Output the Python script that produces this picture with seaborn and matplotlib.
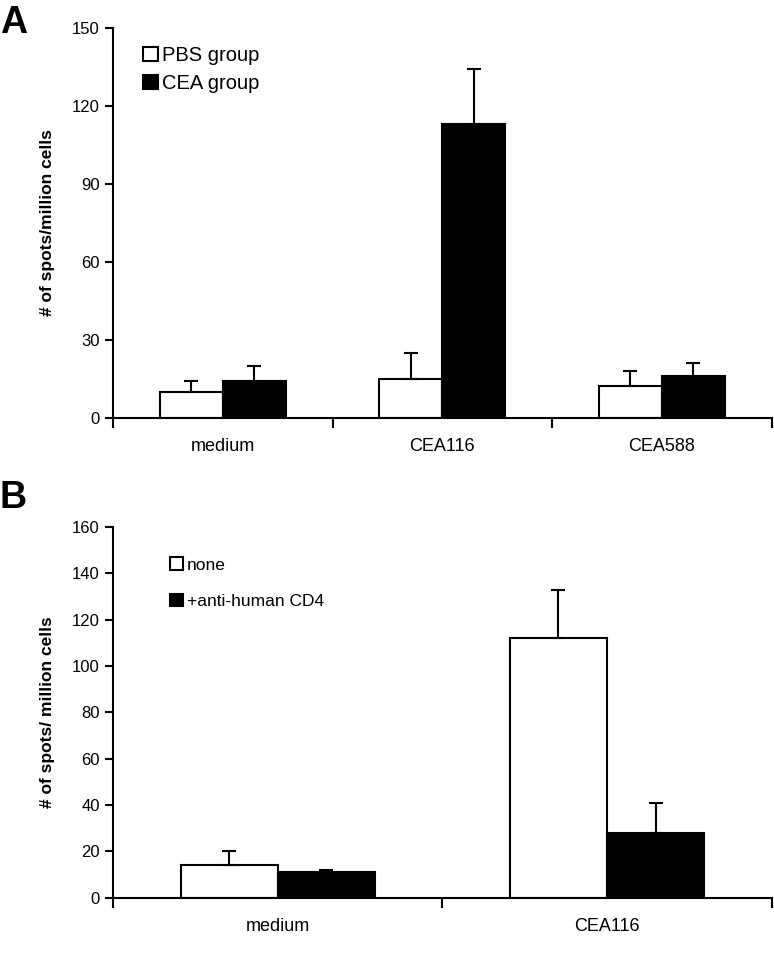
import pandas as pd
import matplotlib
matplotlib.use('Agg')
import matplotlib.pyplot as plt
import seaborn as sns
from matplotlib.patches import Patch

sns.set_style('white')
plt.rcParams['font.family'] = ['Liberation Sans', 'DejaVu Sans']
plt.rcParams['text.color'] = 'black'
plt.rcParams['axes.labelcolor'] = 'black'
plt.rcParams['xtick.color'] = 'black'
plt.rcParams['ytick.color'] = 'black'

# panel A
cats_a = ['medium', 'CEA116', 'CEA588']
groups_a = ['PBS group', 'CEA group']
vals_a = {'PBS group': [10, 15, 12], 'CEA group': [14, 113, 16]}
errs_a = {'PBS group': [4, 10, 6], 'CEA group': [6, 21, 5]}

# panel B
cats_b = ['medium', 'CEA116']
groups_b = ['none', '+anti-human CD4']
vals_b = {'none': [14, 112], '+anti-human CD4': [11, 28]}
errs_b = {'none': [6, 21], '+anti-human CD4': [1, 13]}


def long_form(cats, groups, vals):
    rows = []
    for g in groups:
        for c, v in zip(cats, vals[g]):
            rows.append({'cat': c, 'group': g, 'val': v})
    return pd.DataFrame(rows)


def draw(ax, cats, groups, vals, errs, width, ymax, ystep, ylabel):
    df = long_form(cats, groups, vals)
    sns.barplot(data=df, x='cat', y='val', hue='group', order=cats,
                hue_order=groups, palette=['white', 'black'],
                edgecolor='black', linewidth=1.5, width=width,
                errorbar=None, ax=ax, legend=False)
    # error bars (upper only) on top of each bar
    for g, cont in zip(groups, ax.containers):
        xs = [p.get_x() + p.get_width() / 2 for p in cont.patches]
        ys = [p.get_height() for p in cont.patches]
        ax.errorbar(xs, ys, yerr=[[0] * len(ys), errs[g]], fmt='none',
                    ecolor='black', elinewidth=1.5, capsize=5, capthick=1.5,
                    zorder=1)
    n = len(cats)
    ax.set_xlim(-0.5, n - 0.5)
    ax.set_ylim(0, ymax)
    ax.set_yticks(range(0, ymax + 1, ystep))
    ax.set_xticks([i - 0.5 for i in range(n + 1)], minor=True)
    ax.tick_params(axis='x', which='major', length=0, pad=15, labelsize=13)
    ax.tick_params(axis='x', which='minor', length=7, width=1.5,
                   direction='out', bottom=True)
    ax.tick_params(axis='y', length=6, width=1.5, direction='out',
                   labelsize=12, left=True)
    ax.set_xlabel('')
    ax.set_ylabel(ylabel, fontsize=12.5, fontweight='bold', labelpad=12)
    sns.despine(ax=ax)
    for s in ['left', 'bottom']:
        ax.spines[s].set_linewidth(1.5)
        ax.spines[s].set_color('black')


fig = plt.figure(figsize=(7.74, 9.6), dpi=100)
ax_a = fig.add_axes([0.146, 0.565, 0.851, 0.406])
ax_b = fig.add_axes([0.146, 0.065, 0.851, 0.386])

draw(ax_a, cats_a, groups_a, vals_a, errs_a, 0.575, 150, 30,
     '# of spots/million cells')
draw(ax_b, cats_b, groups_b, vals_b, errs_b, 0.59, 160, 20,
     '# of spots/ million cells')

handles_a = [Patch(facecolor=c, edgecolor='black', linewidth=1.5, label=g)
             for c, g in zip(['white', 'black'], groups_a)]
ax_a.legend(handles=handles_a, loc='upper left', bbox_to_anchor=(0.018, 1.0),
            frameon=False, fontsize=14.5, handlelength=0.75, handleheight=0.75,
            handletextpad=0.2, labelspacing=0.45)

handles_b = [Patch(facecolor=c, edgecolor='black', linewidth=1.5, label=g)
             for c, g in zip(['white', 'black'], groups_b)]
ax_b.legend(handles=handles_b, loc='upper left', bbox_to_anchor=(0.063, 0.96),
            frameon=False, fontsize=12.5, handlelength=0.75, handleheight=0.75,
            handletextpad=0.2, labelspacing=1.2)

fig.text(0.0, 0.995, 'A', fontsize=27, fontweight='bold', va='top', ha='left')
fig.text(0.0, 0.5, 'B', fontsize=27, fontweight='bold', va='top', ha='left')

fig.savefig('out.png', dpi=100, facecolor='white')
